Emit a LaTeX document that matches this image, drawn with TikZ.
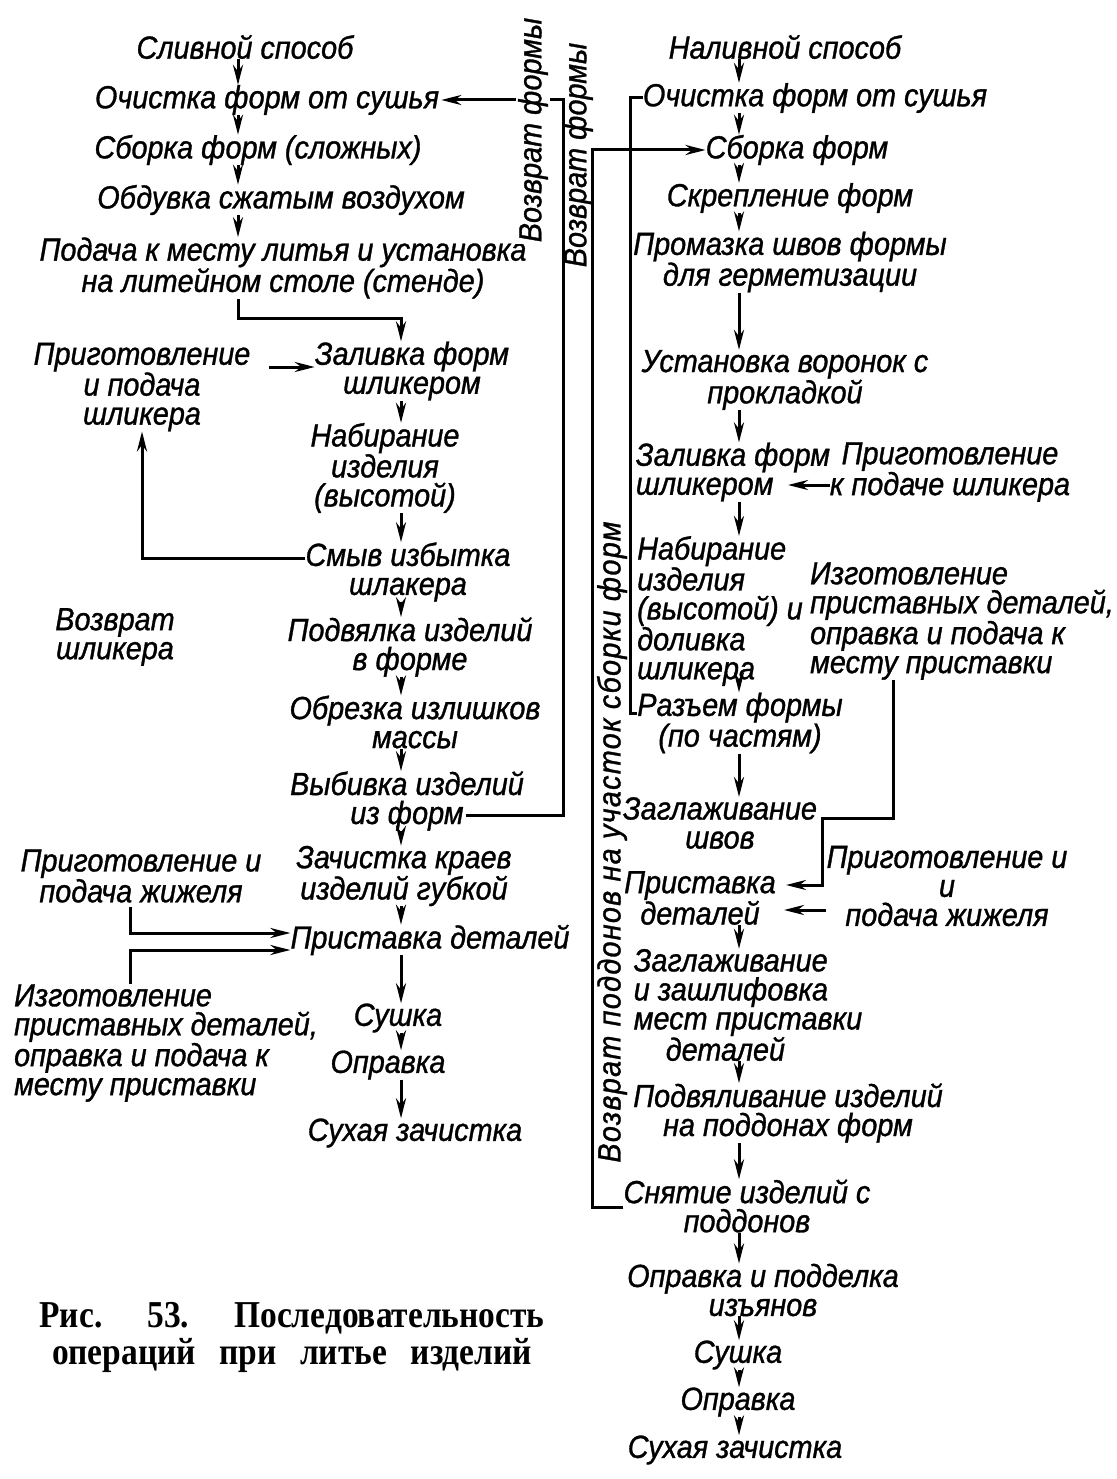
\documentclass[tikz,border=0pt]{standalone}
\usepackage{fontspec}
\newfontfamily\hand[FakeStretch=0.9,FakeBold=1]{Liberation Sans}
\newfontfamily\capf[FakeStretch=0.88]{Liberation Serif}
\usetikzlibrary{arrows.meta,calc}
\begin{document}
\begin{tikzpicture}[x=1pt,y=-1pt,
  lbl/.style={inner sep=0pt, align=center, font={\hand\itshape\fontsize{32}{29}\selectfont}},
  lbll/.style={lbl, align=left},
  arr/.style={line width=3pt, -{Stealth[length=20pt,width=10pt]}},
  ln/.style={line width=3pt},
  capst/.style={inner sep=0pt, align=center, font={\capf\bfseries\fontsize{38}{37}\selectfont}}]
\useasboundingbox (0,0) rectangle (1116,1479);
\fill[white] (0,0) rectangle (1116,1479);

% columns
\coordinate (cL) at (238,0);
\coordinate (cM) at (401,0);
\coordinate (cR) at (739,0);
\coordinate (cP) at (130,0);

% left column
\node[lbl] (L1) at (245,47) {Сливной способ};
\node[lbl] (L2) at (267,100) {Очистка форм от сушья};
\node[lbl] (L3) at (258,150) {Сборка форм (сложных)};
\node[lbl] (L4) at (281,200) {Обдувка сжатым воздухом};
\node[lbl] (L5) at (283,268) {Подача к месту литья и установка\\на литейном столе (стенде)};
\node[lbl] (L6) at (142,387) {Приготовление\\и подача\\шликера};
\node[lbl] (L7) at (412,371) {Заливка форм\\шликером};
\node[lbl] (L8) at (385,468) {Набирание\\изделия\\(высотой)};
\node[lbl] (L9) at (408,572) {Смыв избытка\\шлакера};
\node[lbl] (Lr) at (115,637) {Возврат\\шликера};
\node[lbl] (L10) at (410,647) {Подвялка изделий\\в форме};
\node[lbl] (L11) at (415,722) {Обрезка излишков\\массы};
\node[lbl] (L12) at (407,801) {Выбивка изделий\\из форм};
\node[lbl] (L13) at (404,876) {Зачистка краев\\изделий губкой};
\node[lbl] (L14) at (141,876) {Приготовление и\\подача жижеля};
\node[lbl] (L15) at (430,940) {Приставка деталей};
\node[lbll] (L16) at (166,1043) {Изготовление\\приставных деталей,\\оправка и подача к\\месту приставки};
\node[lbl] (L17) at (398,1018) {Сушка};
\node[lbl] (L18) at (388,1065) {Оправка};
\node[lbl] (L19) at (415,1133) {Сухая зачистка};

% right column
\node[lbl] (R1) at (785,47) {Наливной способ};
\node[lbl] (R2) at (815,98) {Очистка форм от сушья};
\node[lbl] (R3) at (797,150) {Сборка форм};
\node[lbl] (R4) at (790,198) {Скрепление форм};
\node[lbl] (R5) at (790,262) {Промазка швов формы\\для герметизации};
\node[lbl] (R6) at (785,380) {Установка воронок с\\прокладкой};
\node[lbll] (R7) at (733,472) {Заливка форм\\шликером};
\node[lbl] (R8) at (950,472) {Приготовление\\к подаче шликера};
\node[lbll] (R9) at (720,611) {Набирание\\изделия\\(высотой) и\\доливка\\шликера};
\node[lbll] (R10) at (962,621) {Изготовление\\приставных деталей,\\оправка и подача к\\месту приставки};
\node[lbl] (R11) at (740,723) {Разъем формы\\(по частям)};
\node[lbl] (R12) at (720,823) {Заглаживание\\швов};
\node[lbl] (R13) at (700,898) {Приставка\\деталей};
\node[lbl] (R14) at (947,886) {Приготовление и\\и\\подача жижеля};
\node[lbll] (R15) at (748,1005) {Заглаживание\\и зашлифовка\\мест приставки\\\hspace*{1em}деталей};
\node[lbl] (R16) at (788,1113) {Подвяливание изделий\\на поддонах форм};
\node[lbl] (R17) at (747,1206) {Снятие изделий с\\поддонов};
\node[lbl] (R18) at (763,1290) {Оправка и подделка\\изъянов};
\node[lbl] (R19) at (738,1355) {Сушка};
\node[lbl] (R20) at (738,1402) {Оправка};
\node[lbl] (R21) at (735,1450) {Сухая зачистка};

% left arrows
\draw[arr] (L1.south -| cL) -- (L2.north -| cL);
\draw[arr] (L2.south -| cL) -- (L3.north -| cL);
\draw[arr] (L3.south -| cL) -- (L4.north -| cL);
\draw[arr] (L4.south -| cL) -- (L5.north -| cL);
\coordinate (k5) at ($(L5.south -| cL)+(0,20)$);
\draw[arr] (L5.south -| cL) -- (k5) -| (L7.north -| cM);
\coordinate (k6) at (0,367);
\draw[arr, shorten <=18pt] (L6.east |- k6) -- (L7.west |- k6);
\draw[arr] (L7.south -| cM) -- (L8.north -| cM);
\draw[arr] (L8.south -| cM) -- (L9.north -| cM);
\coordinate (k9) at (142,558);
\draw[arr] (L9.west |- k9) -- (k9) -- (L6.south -| k9);
\draw[arr] (L9.south -| cM) -- (L10.north -| cM);
\draw[arr] (L10.south -| cM) -- (L11.north -| cM);
\draw[arr] (L11.south -| cM) -- (L12.north -| cM);
\draw[arr] (L12.south -| cM) -- (L13.north -| cM);
\coordinate (k12a) at (466,815);
\coordinate (k12b) at (563,815);
\draw[arr, shorten >=2pt] (k12a) -- (k12b) |- (L2.east);
\draw[arr] (L13.south -| cM) -- (L15.north -| cM);
\draw[arr, shorten <=4pt] (L14.south -| cP) |- ($(L15.west)+(0,-7)$);
\draw[arr] (L16.north -| cP) |- ($(L15.west)+(0,10)$);
\draw[arr] (L15.south -| cM) -- (L17.north -| cM);
\draw[arr] (L17.south -| cM) -- (L18.north -| cM);
\draw[arr] (L18.south -| cM) -- (L19.north -| cM);

% right arrows
\draw[arr] (R1.south -| cR) -- (R2.north -| cR);
\draw[arr] (R2.south -| cR) -- (R3.north -| cR);
\draw[arr] (R3.south -| cR) -- (R4.north -| cR);
\draw[arr] (R4.south -| cR) -- (R5.north -| cR);
\draw[arr] (R5.south -| cR) -- (R6.north -| cR);
\draw[arr] (R6.south -| cR) -- (R7.north -| cR);
\coordinate (k8) at (788,485);
\draw[arr] (R8.west |- k8) -- (k8);
\draw[arr] (R7.south -| cR) -- (R9.north -| cR);
\draw[arr] (R9.south -| cR) -- (R11.north -| cR);
\draw[arr] (R11.south -| cR) -- (R12.north -| cR);
\coordinate (k10a) at (893,818);
\coordinate (k10b) at (822,885);
\draw[arr, shorten >=10pt] (R10.south -| k10a) -- (k10a) -| (k10b) -- (R13.east |- k10b);
\coordinate (k14) at (0,910);
\draw[arr, shorten >=8pt] (R14.west |- k14) -- (R13.east |- k14);
\draw[arr] (R13.south -| cR) -- (R15.north -| cR);
\draw[arr] (R15.south -| cR) -- (R16.north -| cR);
\draw[arr] (R16.south -| cR) -- (R17.north -| cR);
\draw[arr] (R17.south -| cR) -- (R18.north -| cR);
\draw[arr] (R18.south -| cR) -- (R19.north -| cR);
\draw[arr] (R19.south -| cR) -- (R20.north -| cR);
\draw[arr] (R20.south -| cR) -- (R21.north -| cR);

% return lines
\coordinate (kB1) at (592,1207);
\draw[arr] (R17.west |- kB1) -- (kB1) |- (R3.west);
\coordinate (kC1) at (630,713);
\draw[ln] (R11.west |- kC1) -- (kC1) |- (R2.west);

% rotated labels
\node[lbl, rotate=90, fill=white, inner sep=2pt] (T1) at (533,130) {Возврат формы};
\node[lbl, rotate=90] (T2) at (578,155) {Возврат формы};
\node[lbl, rotate=90] (T3) at (612,842) {\addfontfeature{LetterSpace=4}Возврат поддонов на участок сборки форм};

% caption
\node[capst] (cap) at (292,1337) {\makebox[505pt][s]{Рис. 53. Последовательность}\\\makebox[480pt][s]{операций при литье изделий}};
\end{tikzpicture}
\end{document}
